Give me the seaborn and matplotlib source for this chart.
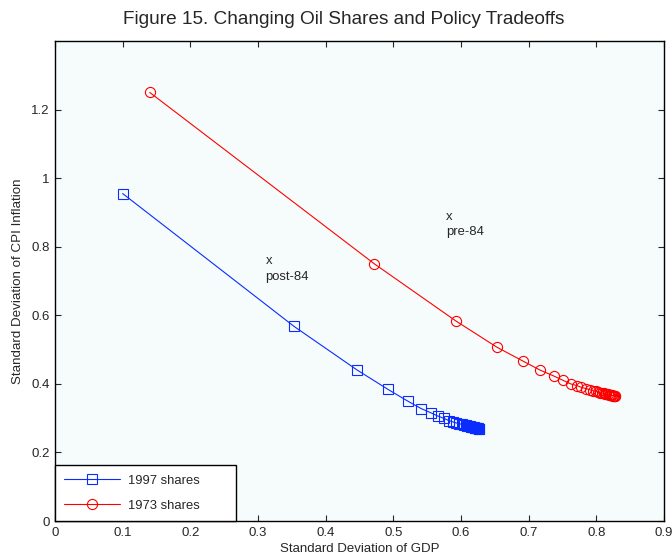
import numpy as np
import pandas as pd
import matplotlib
matplotlib.use("Agg")
import matplotlib.pyplot as plt
import seaborn as sns

# 1997 oil shares frontier (std GDP, std CPI inflation)
x_1997 = [0.100, 0.353, 0.446, 0.492, 0.521, 0.541, 0.555, 0.566, 0.575, 0.582,
          0.588, 0.593, 0.597, 0.601, 0.604, 0.607, 0.609, 0.611, 0.613, 0.615,
          0.616, 0.618, 0.619, 0.620, 0.621, 0.622, 0.623, 0.624, 0.625, 0.626, 0.627]
y_1997 = [0.955, 0.568, 0.441, 0.384, 0.350, 0.328, 0.316, 0.306, 0.299, 0.293,
          0.289, 0.286, 0.284, 0.282, 0.280, 0.279, 0.278, 0.277, 0.276, 0.275,
          0.274, 0.2735, 0.273, 0.2725, 0.272, 0.2715, 0.271, 0.2705, 0.270, 0.2695, 0.269]

# 1973 oil shares frontier
x_1973 = [0.140, 0.472, 0.592, 0.653, 0.692, 0.717, 0.737, 0.750, 0.762, 0.771,
          0.778, 0.785, 0.790, 0.795, 0.799, 0.803, 0.806, 0.809, 0.811, 0.813,
          0.815, 0.817, 0.819, 0.820, 0.822, 0.823, 0.824, 0.825, 0.826, 0.827, 0.828]
y_1973 = [1.250, 0.750, 0.584, 0.507, 0.466, 0.440, 0.423, 0.411, 0.400, 0.395,
          0.390, 0.386, 0.383, 0.380, 0.378, 0.376, 0.374, 0.373, 0.372, 0.371,
          0.370, 0.369, 0.368, 0.3675, 0.367, 0.3665, 0.366, 0.3655, 0.365, 0.3645, 0.364]

x_ticks = [0, 0.1, 0.2, 0.3, 0.4, 0.5, 0.6, 0.7, 0.8, 0.9]
x_ticklabels = ["0", "0.1", "0.2", "0.3", "0.4", "0.5", "0.6", "0.7", "0.8", "0.9"]
y_ticks = [0, 0.2, 0.4, 0.6, 0.8, 1.0, 1.2]
y_ticklabels = ["0", "0.2", "0.4", "0.6", "0.8", "1", "1.2"]

df97 = pd.DataFrame({"gdp": x_1997, "cpi": y_1997})
df73 = pd.DataFrame({"gdp": x_1973, "cpi": y_1973})

sns.set_style("ticks")
plt.rcParams["font.family"] = ["Liberation Sans", "DejaVu Sans"]
plt.rcParams["text.color"] = "#262626"

fig = plt.figure(figsize=(6.72, 5.55), dpi=100)
ax = fig.add_axes([55/672, 34/555, 609/672, 480/555])
ax.set_facecolor("#F6FCFC")

sns.lineplot(data=df97, x="gdp", y="cpi", sort=False, estimator=None, ax=ax,
             color="#0A2CFF", lw=0.8, marker="s", markersize=7.3,
             markerfacecolor="none", markeredgecolor="#0A2CFF", markeredgewidth=0.8,
             label="1997 shares")
sns.lineplot(data=df73, x="gdp", y="cpi", sort=False, estimator=None, ax=ax,
             color="#FF0000", lw=0.8, marker="o", markersize=7.3,
             markerfacecolor="none", markeredgecolor="#FF0000", markeredgewidth=0.8,
             label="1973 shares")

ax.text(0.311, 0.775, "x\npost-84", fontsize=9.4, va="top", ha="left", linespacing=1.4)
ax.text(0.578, 0.905, "x\npre-84", fontsize=9.4, va="top", ha="left", linespacing=1.4)

ax.set_xlim(0, 0.9)
ax.set_ylim(0, 1.4)
ax.set_xticks(x_ticks)
ax.set_xticklabels(x_ticklabels)
ax.set_yticks(y_ticks)
ax.set_yticklabels(y_ticklabels)
ax.tick_params(direction="in", length=4, width=0.8, top=True, right=True,
               labelsize=9.5, labelcolor="#262626", pad=4)
for s in ax.spines.values():
    s.set_visible(True)
    s.set_linewidth(1.0)
    s.set_color("black")

ax.set_xlabel("Standard Deviation of GDP", fontsize=9.5, labelpad=3)
ax.set_ylabel("Standard Deviation of CPI Inflation", fontsize=9.6, labelpad=5)
fig.text(344/672, 1 - 20/555, "Figure 15. Changing Oil Shares and Policy Tradeoffs",
         ha="center", va="center", fontsize=13.7)

leg = ax.legend(loc="lower left", bbox_to_anchor=(0, 0, 181/609, 0.125),
                mode="expand", borderaxespad=0, fancybox=False, framealpha=1,
                edgecolor="black", facecolor="white", fontsize=9.4,
                handlelength=4.3, handletextpad=0.6, labelspacing=1.0, borderpad=0.7)
leg.get_frame().set_linewidth(1.0)

fig.savefig("out.png", dpi=100)
